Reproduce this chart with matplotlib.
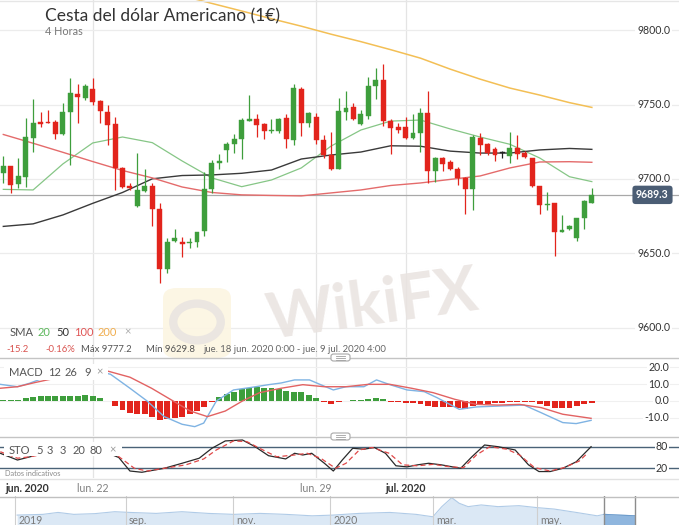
import matplotlib
matplotlib.use('Agg')
import matplotlib.pyplot as plt
import matplotlib.transforms as mtransforms
from matplotlib.patches import FancyBboxPatch, Circle
from matplotlib.lines import Line2D
import numpy as np

plt.rcParams['font.family'] = ['Lato', 'DejaVu Sans']

# ---------------- data ----------------
title = 'Cesta del dólar Americano (1€)'
subtitle = '4 Horas'

opens = [9704.2, 9708.7, 9696.6, 9701.5, 9727.7, 9738.3, 9738.3, 9738.1, 9730.2, 9745.2,
         9757.0, 9754.2, 9760.2, 9752.5, 9745.2, 9736.7, 9707.2, 9695.3, 9681.9, 9691.9,
         9695.3, 9679.7, 9639.4, 9658.4, 9657.5, 9656.8, 9657.3, 9665.1, 9693.1, 9710.5,
         9719.5, 9723.5, 9726.6, 9739.1, 9740.1, 9736.7, 9732.0, 9732.0, 9740.7, 9726.2,
         9760.2, 9737.4, 9741.8, 9726.2, 9716.1, 9706.7, 9745.2, 9748.5, 9736.7, 9742.5,
         9762.4, 9766.4, 9738.9, 9734.9, 9735.1, 9727.7, 9730.7, 9744.1, 9705.4, 9713.9,
         9711.2, 9706.7, 9700.5, 9693.1, 9727.7, 9723.5, 9719.9, 9717.4, 9715.6, 9720.6,
         9717.6, 9713.9, 9695.3, 9682.6, 9684.1, 9664.0, 9666.4, 9660.2, 9673.6, 9684.1]
highs = [9715.4, 9708.7, 9713.9, 9740.7, 9753.5, 9745.2, 9746.3, 9739.6, 9750.8, 9767.6,
         9763.8, 9763.8, 9767.6, 9753.0, 9749.7, 9741.4, 9707.9, 9697.1, 9717.6, 9706.5,
         9697.1, 9684.1, 9660.2, 9666.2, 9661.3, 9660.2, 9664.6, 9704.9, 9712.8, 9716.8,
         9725.0, 9730.2, 9740.7, 9756.4, 9743.4, 9737.8, 9740.1, 9740.7, 9743.6, 9763.6,
         9761.9, 9745.2, 9744.1, 9729.5, 9731.3, 9754.6, 9759.1, 9751.2, 9746.3, 9768.7,
         9774.7, 9777.2, 9740.1, 9737.4, 9741.8, 9743.4, 9747.8, 9759.1, 9714.6, 9715.0,
         9712.8, 9708.3, 9701.5, 9729.5, 9731.1, 9724.4, 9721.7, 9719.0, 9731.7, 9729.5,
         9719.0, 9713.9, 9695.3, 9691.5, 9684.1, 9675.8, 9669.1, 9673.6, 9685.9, 9693.8]
lows = [9697.5, 9690.8, 9693.8, 9694.8, 9718.3, 9735.1, 9737.4, 9726.8, 9729.5, 9709.4,
        9737.8, 9753.0, 9749.7, 9737.8, 9722.8, 9692.6, 9693.8, 9692.6, 9681.4, 9691.5,
        9668.5, 9629.8, 9637.1, 9657.9, 9647.5, 9653.5, 9654.2, 9661.7, 9690.8, 9706.5,
        9711.6, 9717.2, 9713.2, 9739.1, 9728.0, 9726.6, 9731.1, 9731.1, 9721.0, 9722.8,
        9728.9, 9735.1, 9723.3, 9713.9, 9706.0, 9706.7, 9739.6, 9739.6, 9736.2, 9740.1,
        9753.7, 9735.8, 9716.6, 9730.7, 9726.8, 9726.8, 9717.9, 9697.1, 9698.2, 9705.4,
        9706.0, 9696.0, 9676.5, 9679.2, 9716.1, 9716.1, 9712.3, 9713.9, 9710.9, 9713.2,
        9714.3, 9694.4, 9676.5, 9679.2, 9648.3, 9664.0, 9665.8, 9658.6, 9666.2, 9683.7]
closes = [9708.7, 9696.0, 9702.0, 9728.0, 9737.8, 9736.9, 9737.4, 9730.2, 9745.2, 9757.5,
          9755.2, 9762.6, 9751.9, 9745.6, 9736.2, 9707.2, 9694.8, 9694.2, 9692.6, 9695.3,
          9679.7, 9639.4, 9657.9, 9660.2, 9656.2, 9657.7, 9664.6, 9693.1, 9710.9, 9712.1,
          9723.5, 9726.6, 9739.6, 9740.1, 9736.2, 9732.2, 9732.9, 9740.5, 9726.6, 9760.9,
          9737.4, 9744.1, 9726.2, 9716.1, 9706.7, 9745.6, 9747.8, 9740.3, 9743.4, 9762.6,
          9766.4, 9739.1, 9734.4, 9732.9, 9727.7, 9731.1, 9744.1, 9705.4, 9713.9, 9709.9,
          9706.5, 9700.5, 9693.1, 9728.4, 9722.8, 9717.2, 9716.1, 9717.4, 9720.6, 9716.8,
          9714.6, 9695.3, 9682.6, 9683.4, 9664.0, 9665.8, 9668.5, 9673.6, 9685.4, 9689.3]

sma_idx = [0, 4, 8, 12, 16, 20, 24, 28, 32, 36, 40, 44, 48, 52, 56, 60, 64, 68, 72, 76, 79]
sma20 = [9693.0, 9692.6, 9710.1, 9724.2, 9728.2, 9724.4, 9712.1, 9700.7, 9694.8, 9699.3,
         9707.4, 9722.1, 9732.9, 9738.9, 9739.6, 9733.6, 9728.2, 9723.3, 9714.1, 9701.5, 9698.2]
sma50 = [9668.1, 9669.8, 9675.8, 9683.6, 9690.9, 9700.1, 9702.3, 9702.7, 9703.8, 9706.0,
         9713.4, 9716.1, 9718.1, 9722.3, 9722.0, 9718.7, 9717.4, 9717.4, 9719.5, 9720.5, 9719.9]
sma100 = [9729.9, 9724.0, 9717.9, 9711.7, 9705.7, 9700.7, 9694.6, 9690.9, 9689.3, 9688.9,
          9688.6, 9690.6, 9692.6, 9695.6, 9697.3, 9699.7, 9702.0, 9707.4, 9711.4, 9711.6, 9711.2]
sma200_idx = [24, 28, 32, 36, 40, 44, 48, 52, 56, 60, 64, 68, 72, 76, 79]
sma200 = [9823.2, 9818.0, 9812.9, 9807.7, 9802.7, 9797.3, 9792.3, 9786.9, 9781.2, 9773.8,
          9767.1, 9761.1, 9756.4, 9751.3, 9748.1]

price_ticks = [9600, 9650, 9700, 9750, 9800]
last_price = 9689.3

macd_hist = [0.6, 0.5, 0.8, 1.5, 2.5, 3.0, 3.2, 3.0, 2.8, 3.0,
             3.2, 3.3, 2.8, 1.8, -0.2, -2.7, -5.5, -6.8, -7.5, -7.8,
             -9.5, -11.0, -10.7, -10.3, -9.2, -7.8, -5.9, -3.5, -0.8, 2.5,
             4.0, 5.5, 7.0, 7.8, 8.0, 7.8, 7.5, 7.0, 6.0, 5.0,
             5.2, 3.5, 2.0, -0.3, -1.8, -0.4, 0.2, 0.3, 0.5, 1.2,
             2.0, 1.0, -0.3, -0.5, -1.0, -1.3, -2.0, -2.8, -3.3, -3.6,
             -3.8, -4.2, -4.6, -3.2, -1.8, -1.6, -1.2, -1.0, -0.8, -0.6,
             -0.4, -0.3, -1.8, -3.0, -4.0, -4.4, -4.0, -3.0, -1.8, -1.2]
macd_x = [-0.4, 1.9, 3.5, 6.0, 9.0, 11.5, 14.4, 17.0, 19.3, 21.6, 24.0, 25.7, 26.9, 28.6,
          30.9, 33.3, 35.6, 37.3, 39.1, 41.1, 42.6, 44.3, 46.0, 48.4, 50.1, 51.9, 54.2,
          56.5, 58.2, 61.2, 63.5, 66.4, 69.9, 72.2, 75.1, 76.9, 78.9]
macd_line = [9.8, 8.4, 10.4, 14.5, 18.0, 19.0, 15.7, 7.5, 0.0, -9.2, -13.7, -15.1, -13.0, 0.0,
             6.5, 8.0, 9.6, 10.6, 12.4, 12.4, 9.6, 6.5, 8.4, 8.4, 12.4, 9.6, 6.5,
             5.5, 2.0, -4.9, -3.5, -3.0, -2.4, -6.9, -12.7, -13.3, -11.4]
signal_x = [-0.4, 1.9, 4.2, 5.9, 9.0, 12.0, 14.1, 17.0, 19.9, 22.8, 25.1, 27.4, 29.8, 32.1,
            34.4, 37.3, 40.2, 43.1, 46.0, 49.0, 51.9, 54.8, 57.7, 60.6, 63.5, 66.4, 69.3,
            72.2, 75.1, 78.9]
signal_line = [7.5, 8.4, 10.8, 12.4, 15.0, 17.0, 17.5, 14.0, 7.5, 0.0, -5.9, -9.2, -5.9, 0.0,
               4.9, 7.5, 9.6, 8.4, 8.4, 9.8, 9.8, 7.5, 4.9, 1.0, -2.0, -2.4, -2.0,
               -3.9, -7.8, -10.2]
macd_ticks = [20, 10, 0, -10]

sto_k_x = [-0.4, 1.9, 3.6, 7.0, 11.0, 15.5, 17.0, 18.6, 21.6, 24.0, 26.3, 28.0, 29.8, 32.1,
           33.8, 35.6, 37.9, 39.1, 40.2, 41.4, 43.1, 44.3, 45.5, 46.9, 48.4, 49.8, 51.3,
           52.7, 54.2, 55.6, 57.1, 58.8, 60.3, 61.4, 62.9, 64.6, 66.4, 68.7, 70.5, 71.9,
           73.4, 75.1, 76.9, 78.9]
sto_k = [61.7, 43, 52, 75, 88, 50, 12.5, 9, 20, 34, 48, 75.6, 96, 98.6,
         80, 55, 46, 61.7, 57, 61.7, 34, 12.5, 43, 75.6, 73, 77.8, 61.7,
         27, 24, 29.6, 34, 29.6, 24, 20, 52, 84.7, 80, 71, 29.6, 11,
         11, 20, 38, 80]
sto_d_x = [-0.4, 1.9, 3.6, 7.0, 11.0, 15.2, 17.6, 19.3, 22.2, 24.5, 26.9, 28.6, 30.9, 32.7,
           34.4, 36.7, 39.1, 40.8, 42.6, 44.6, 46.0, 47.8, 49.5, 51.8, 53.6, 55.6, 57.7,
           60.0, 61.8, 63.5, 65.3, 67.6, 69.3, 71.3, 73.4, 75.3, 77.3, 78.4]
sto_d = [66, 48, 52, 65, 82, 57, 20, 12.5, 22, 29.6, 46, 71, 96, 94,
         75.6, 52, 57, 61.7, 48, 20, 34, 71, 77.8, 61.7, 29.6, 27, 31,
         24, 22, 57, 80, 73, 57, 22, 12.5, 22, 40, 61.7]
sto_levels = [80, 20]

date_tick_idx = [12, 42, 54]
date_tick_labels = ['lun. 22', 'lun. 29', 'jul. 2020']
date_tick_bold = [False, False, True]
first_date_label = 'jun. 2020'

nav_m = [0.04, 0.53, 0.82, 1.12, 1.52, 1.90, 2.19, 2.69, 3.18, 3.68,
         4.17, 4.67, 5.16, 5.66, 6.06, 6.55, 7.14, 7.64, 7.96, 8.13,
         8.32, 8.46, 8.63, 8.88, 9.20, 9.60, 9.94, 10.27, 10.69, 11.09,
         11.22, 11.50, 11.81]
nav_v = [96.1, 96.4, 97.2, 96.4, 96.7, 97.5, 97.2, 96.8, 97.5, 96.8,
         96.4, 96.8, 96.4, 95.8, 96.1, 96.8, 97.2, 96.4, 95.4, 99.6,
         103.3, 101.0, 99.6, 100.3, 99.6, 100.0, 99.2, 98.6, 97.2, 95.8,
         96.4, 96.1, 95.8]
nav_tick_pos = [0.0, 2.11, 4.15, 6.0, 7.96, 9.94]
nav_tick_labels = ['2019', 'sep.', 'nov.', '2020', 'mar.', 'may.']
nav_sel = (11.22, 11.81)

# ---------------- figure ----------------
W, H = 679, 525
fig = plt.figure(figsize=(W / 100, H / 100), dpi=100)
fig.patch.set_facecolor('white')

def px_axes(top, bottom):
    return fig.add_axes([0, 1 - bottom / H, 1, (bottom - top) / H])

def fx(x):
    return x / W

def fy(y):
    return 1 - y / H

GREEN = '#3e9e3c'
RED = '#e2241c'
XL = (-0.443, 90.70)

ax = px_axes(0, 357)
axm = px_axes(358, 436)
axs = px_axes(437, 478)
axn = px_axes(496, 525)

for a in (ax, axm, axs, axn):
    a.set_axis_off()
for a in (ax, axm, axs):
    a.set_xlim(*XL)
    for t in date_tick_idx:
        a.axvline(t, color='#e4e4e4', lw=0.9, zorder=0)

# ---- main panel ----
ax.set_ylim(9580.3, 9820.3)
tr_main = mtransforms.blended_transform_factory(ax.transAxes, ax.transData)
for v in price_ticks:
    ax.axhline(v, color='#ececec', lw=0.9, zorder=0)
    ax.text(670 / W, v, f'{v:.1f}', transform=tr_main, ha='right', va='center',
            fontsize=7.6, color='#333333', zorder=8,
            bbox=dict(fc='white', ec='none', pad=1.2))

ax.axhline(last_price, color='#a8a8a8', lw=0.9, zorder=1)
ax.text(652.5 / W, last_price, f'{last_price:.1f}', transform=tr_main, ha='center',
        va='center', fontsize=7.6, color='white', fontweight='bold', zorder=9,
        bbox=dict(boxstyle='round,pad=0.35,rounding_size=0.3', fc='#4b5d74', ec='none'))

idx = np.arange(len(opens))
O = np.array(opens); Hh = np.array(highs); L = np.array(lows); C = np.array(closes)
cols = np.where(C > O, GREEN, np.where(C < O, RED, '#222222'))
bottoms = np.minimum(O, C)
heights = np.maximum(np.abs(C - O), 0.7)
ax.vlines(idx, L, Hh, colors=cols, lw=0.9, zorder=3)
ax.bar(idx, heights, bottom=bottoms, width=0.66, color=cols, edgecolor=cols,
       lw=0.3, zorder=4)

ax.plot(sma_idx, sma20, color='#86c686', lw=0.9, zorder=2)
ax.plot(sma_idx, sma50, color='#3a3a3a', lw=1.0, zorder=2)
ax.plot(sma_idx, sma100, color='#e46b6b', lw=1.0, zorder=2)
ax.plot(sma200_idx, sma200, color='#f3bf55', lw=1.1, zorder=2)

# watermark
fig.text(fx(372), fy(306), 'WikiFX', fontsize=46, fontweight='bold', color='#e9e3e0',
         ha='center', va='center', rotation=8, zorder=1, alpha=0.85)
logo = FancyBboxPatch((fx(163), fy(358)), fx(68), 70 / H,
                      boxstyle='round,pad=0,rounding_size=0.02',
                      transform=fig.transFigure, fc='#fcf5e2', ec='none', zorder=0.5,
                      alpha=0.9)
fig.add_artist(logo)
fig.add_artist(Circle((fx(197), fy(322)), 0.035, transform=fig.transFigure,
                      fc='none', ec='#ebe6e1', lw=6, zorder=0.6))

# titles
fig.text(fx(45), fy(16), title, fontsize=12.5, color='#333333', ha='left', va='center')
fig.text(fx(45), fy(31.5), subtitle, fontsize=7.8, color='#777777', ha='left', va='center')

# SMA legend
sma_leg = [('SMA', '#555555', 10), ('20', '#5cb85c', 38), ('50', '#333333', 56),
           ('100', '#e05555', 74), ('200', '#f0ad4e', 98), ('×', '#aaaaaa', 124)]
for s, c, x in sma_leg:
    fig.text(fx(x), fy(332), s, fontsize=8, color=c, ha='left', va='center')
info = [('-15.2', '#d9534f', 6), ('-0.16%', '#d9534f', 45), ('Máx 9777.2', '#555555', 81),
        ('Mín 9629.8', '#555555', 146),
        ('jue. 18 jun. 2020 0:00 - jue. 9 jul. 2020 4:00', '#666666', 203)]
for s, c, x in info:
    fig.text(fx(x), fy(350), s, fontsize=6.8, color=c, ha='left', va='center')

# ---- MACD panel ----
axm.set_ylim(-20.6, 25.3)
tr_m = mtransforms.blended_transform_factory(axm.transAxes, axm.transData)
for v in macd_ticks:
    axm.axhline(v, color='#f0f0f0', lw=0.8, zorder=0)
    axm.text(669 / W, v, f'{v:.1f}', transform=tr_m, ha='right', va='center',
             fontsize=7.6, color='#333333', zorder=8,
             bbox=dict(fc='white', ec='none', pad=1.0))
hist = np.array(macd_hist)
axm.bar(idx, hist, width=0.8, color=np.where(hist >= 0, GREEN, RED), zorder=2)
axm.plot(macd_x, macd_line, color='#7fb3e3', lw=1.0, zorder=3)
axm.plot(signal_x, signal_line, color='#e26262', lw=1.0, zorder=3)
fig.add_artist(FancyBboxPatch((fx(4), fy(380)), fx(104), 16 / H, boxstyle='square,pad=0',
                              transform=fig.transFigure, fc='white', ec='none', zorder=5))
for s, x in [('MACD', 9), ('12', 48), ('26', 65), ('9', 84), ('×', 96)]:
    fig.text(fx(x), fy(372), s, fontsize=8, color='#555555' if s != '×' else '#999999',
             ha='left', va='center', zorder=6)

# ---- STO panel ----
axs.set_ylim(-6.9, 106.9)
tr_s = mtransforms.blended_transform_factory(axs.transAxes, axs.transData)
for v in sto_levels:
    axs.axhline(v, color='#4a6277', lw=1.0, zorder=1)
    axs.text(662 / W, v, f'{v}', transform=tr_s, ha='center', va='center',
             fontsize=7.6, color='#333333', zorder=8,
             bbox=dict(fc='white', ec='none', pad=0.8))
axs.plot(sto_k_x, sto_k, color='#2a2a2a', lw=0.9, zorder=3)
axs.plot(sto_d_x, sto_d, color='#e04848', lw=0.9, ls=(0, (4, 2.5)), zorder=3)
fig.add_artist(FancyBboxPatch((fx(4), fy(456)), fx(118), 14 / H, boxstyle='square,pad=0',
                              transform=fig.transFigure, fc='white', ec='none', zorder=5))
for s, x in [('STO', 9), ('5', 36), ('3', 47), ('3', 60), ('20', 73), ('80', 90), ('×', 109)]:
    fig.text(fx(x), fy(450), s, fontsize=8, color='#555555' if s != '×' else '#999999',
             ha='left', va='center', zorder=6)
fig.text(fx(5), fy(473.5), 'Datos indicativos', fontsize=5.3, color='#8a8a8a',
         ha='left', va='center', zorder=6)

# separators and handles
for y, c in [(357.5, '#c4c4c4'), (436.5, '#c4c4c4'), (478.5, '#e2e2e2'), (0.5, '#e6e6e6')]:
    fig.add_artist(Line2D([0, 1], [fy(y), fy(y)], transform=fig.transFigure, color=c, lw=1.0,
                          zorder=7))
for y in (357.5, 436.5):
    fig.add_artist(FancyBboxPatch((fx(331), fy(y + 3.5)), fx(19), 7 / H,
                                  boxstyle='round,pad=0,rounding_size=0.004',
                                  transform=fig.transFigure, fc='white', ec='#a8a8a8',
                                  lw=0.8, zorder=8))
    for dy in (-1.5, 0.5, 2.5):
        fig.add_artist(Line2D([fx(336), fx(345)], [fy(y + dy - 0.5), fy(y + dy - 0.5)],
                              transform=fig.transFigure, color='#a0a0a0', lw=0.6, zorder=9))

# date labels
tr_d = mtransforms.blended_transform_factory(axs.transData, fig.transFigure)
fig.text(fx(5), fy(488), first_date_label, fontsize=7.6, fontweight='bold', color='#333333',
         ha='left', va='center')
for t, s, b in zip(date_tick_idx, date_tick_labels, date_tick_bold):
    axs.text(t, fy(488), s, transform=tr_d, ha='center', va='center', fontsize=7.6,
             fontweight='bold' if b else 'normal', color='#333333' if b else '#808080',
             clip_on=False)

# ---- navigator ----
axn.set_xlim(-0.286, 12.648)
axn.set_ylim(92, 104)
nm = np.array(nav_m); nv = np.array(nav_v)
axn.fill_between(nm, nv, 92, color='#dbe8f5', lw=0, zorder=1)
axn.plot(nm, nv, color='#b0cbe7', lw=0.8, zorder=2)
sel = nm >= nav_sel[0]
axn.fill_between(nm[sel], nv[sel], 92, color='#8fb6de', lw=0, zorder=3)
axn.plot(nm[sel], nv[sel], color='#6d9ccc', lw=0.8, zorder=3)
for p, s in zip(nav_tick_pos, nav_tick_labels):
    axn.axvline(p, color='#cfcfcf', lw=0.8, zorder=2)
    axn.text(p + 0.06, 93.9, s, fontsize=7.6, color='#7a7a7a', ha='left', va='center', zorder=4)
for p in nav_sel:
    axn.axvline(p, color='#8c8c8c', lw=1.0, zorder=4)
axn.axhline(103.7, color='#c0c0c0', lw=1.0, zorder=4)

fig.savefig('out.png', dpi=100, facecolor='white')
